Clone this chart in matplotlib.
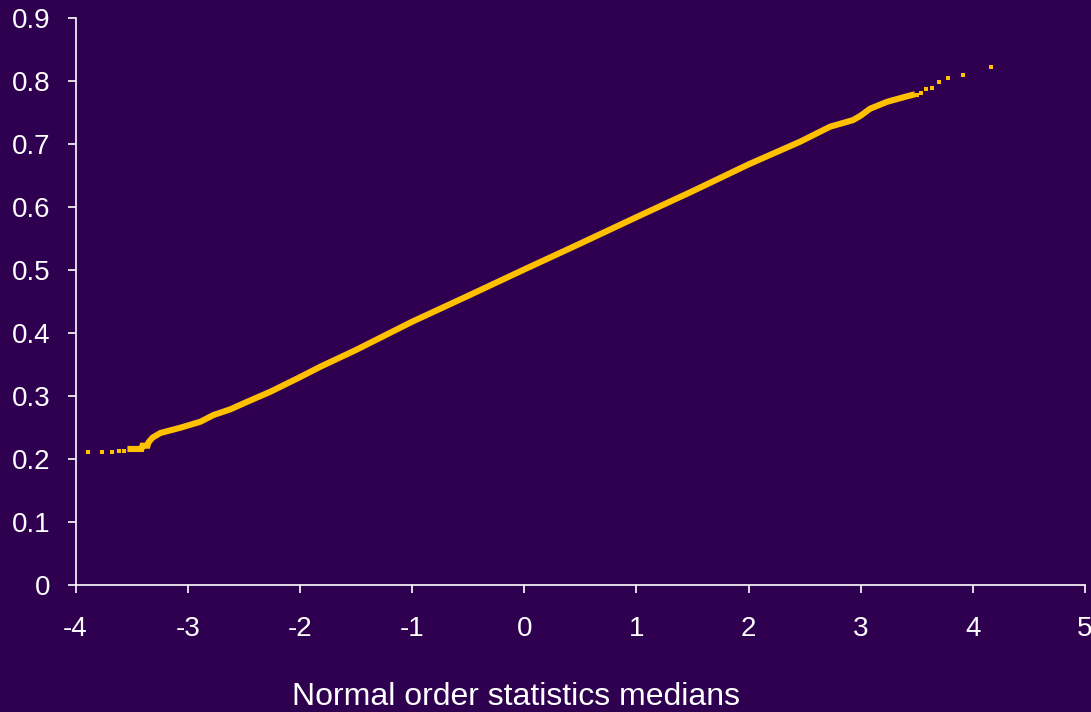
import matplotlib
matplotlib.use("Agg")
import matplotlib.pyplot as plt

# Normal probability plot data
# dense body of the plot (points merge into a continuous band)
body_x = [-3.537, -3.412, -3.403, -3.358, -3.349, -3.314, -3.243, -3.064, -2.886,
          -2.770, -2.619, -2.467, -2.262, -2.0, -1.817, -1.5, -1.0, -0.5, 0.0,
          0.5, 1.0, 1.5, 2.0, 2.461, 2.728, 2.933, 3.0, 3.084, 3.236, 3.378, 3.485]
body_y = [0.2159, 0.2159, 0.2211, 0.2211, 0.2265, 0.2338, 0.2413, 0.2497, 0.2592,
          0.2698, 0.2789, 0.2910, 0.3068, 0.3298, 0.3465, 0.373, 0.4178, 0.459, 0.5008,
          0.542, 0.5838, 0.625, 0.6676, 0.7037, 0.7275, 0.738, 0.745, 0.756, 0.767, 0.774, 0.779]

# isolated points in the tails
tail_x = [-3.887, -3.762, -3.679, -3.614, -3.570,
          3.502, 3.540, 3.582, 3.635, 3.697, 3.783, 3.908, 4.164]
tail_y = [0.2116, 0.2116, 0.2116, 0.212, 0.212,
          0.778, 0.7815, 0.7868, 0.789, 0.798, 0.8053, 0.8095, 0.8217]

x_ticks = [-4, -3, -2, -1, 0, 1, 2, 3, 4, 5]
y_ticks = [0, 0.1, 0.2, 0.3, 0.4, 0.5, 0.6, 0.7, 0.8, 0.9]
y_tick_labels = ["0", "0.1", "0.2", "0.3", "0.4", "0.5", "0.6", "0.7", "0.8", "0.9"]
x_label = "Normal order statistics medians"

BG = "#2F0050"
PT = "#FFC000"
plt.rcParams["font.family"] = ["Liberation Sans", "DejaVu Sans"]

fig = plt.figure(figsize=(10.91, 7.12), dpi=100, facecolor=BG)
ax = fig.add_axes([75.5 / 1091, (712 - 585) / 712, 1009.5 / 1091, 567 / 712])
ax.set_facecolor(BG)

ax.plot(body_x, body_y, color=PT, lw=4.4, solid_capstyle="butt", solid_joinstyle="miter")
ax.plot(tail_x, tail_y, ls="none", marker="s", ms=2.6, mfc=PT, mec=PT, mew=0)

ax.set_xlim(-4, 5)
ax.set_ylim(0, 0.9)
ax.set_xticks(x_ticks)
ax.set_xticklabels([str(v) for v in x_ticks])
ax.set_yticks(y_ticks)
ax.set_yticklabels(y_tick_labels)

for s in ["top", "right"]:
    ax.spines[s].set_visible(False)
for s in ["left", "bottom"]:
    ax.spines[s].set_color("white")
    ax.spines[s].set_linewidth(1.2)

ax.tick_params(axis="both", colors="white", direction="out", length=6, width=1.2,
               labelsize=20, labelcolor="white")
ax.tick_params(axis="x", pad=16)
ax.tick_params(axis="y", pad=12)

ax.set_xlabel(x_label, color="white", fontsize=23)
ax.xaxis.set_label_coords((516 - 75.5) / 1009.5, (585 - 697) / 567)
ax.xaxis.label.set_va("center")

fig.savefig("out.png", dpi=100, facecolor=BG)
